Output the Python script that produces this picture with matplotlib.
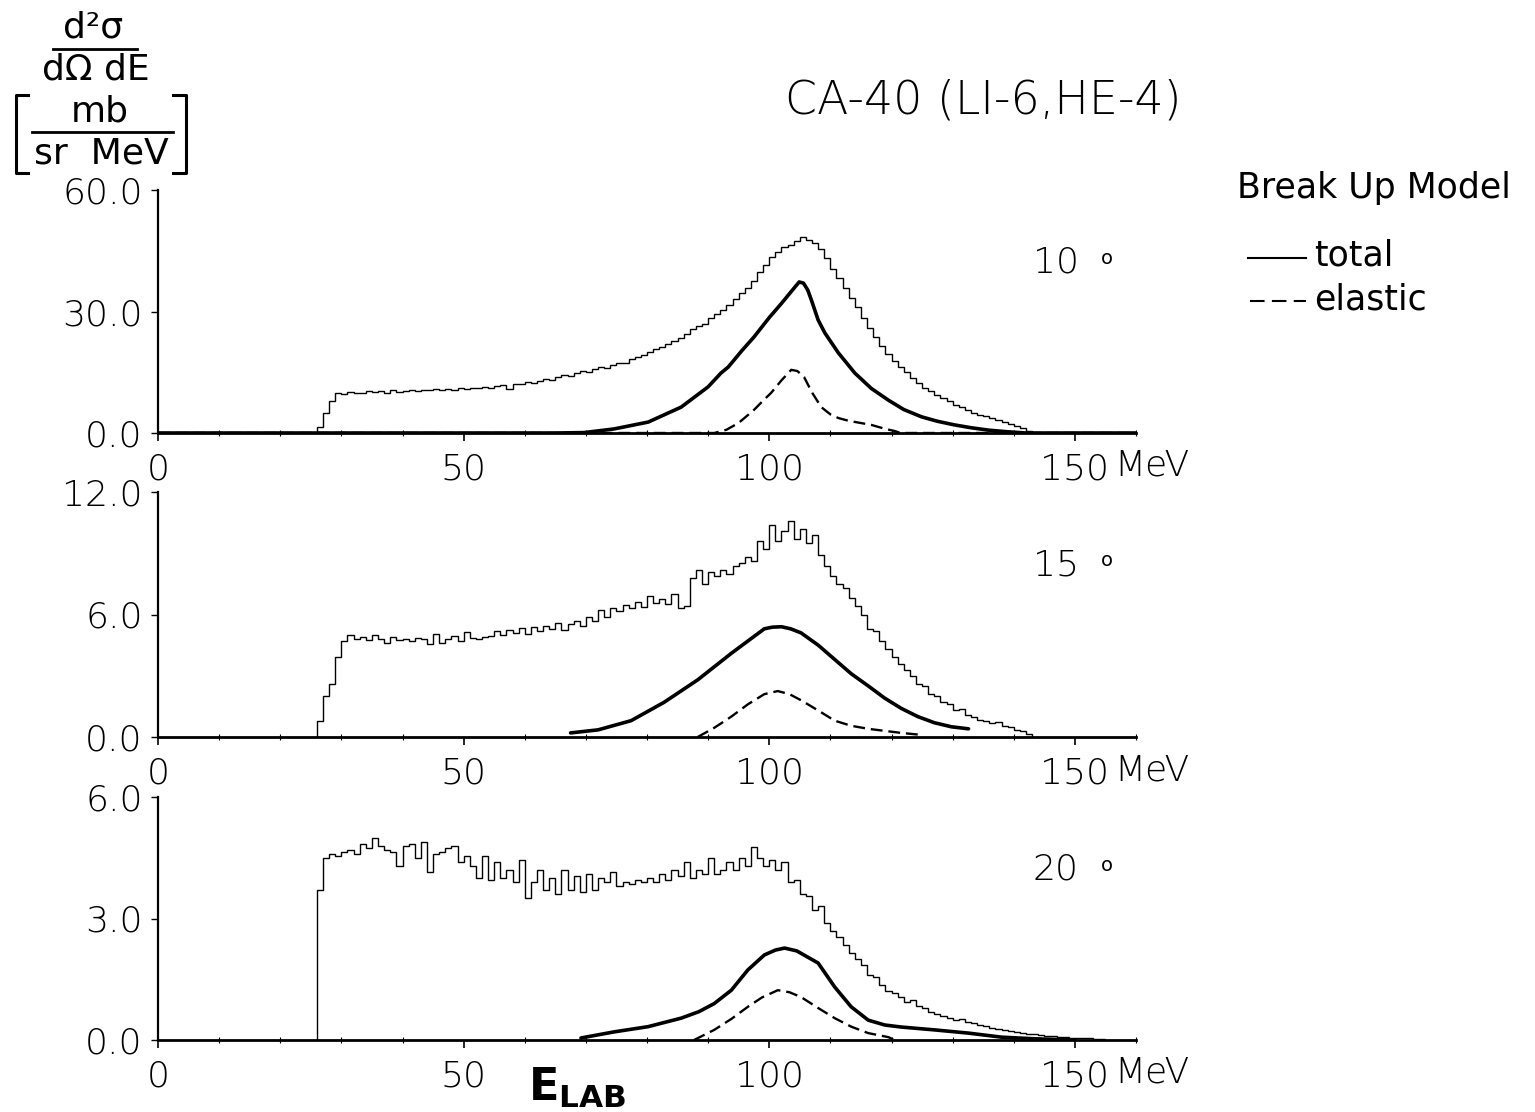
import numpy as np
import matplotlib
matplotlib.use("Agg")
import matplotlib.pyplot as plt
from matplotlib.lines import Line2D

plt.rcParams['font.family'] = ['DejaVu Sans']
plt.rcParams['mathtext.fontset'] = 'dejavusans'

# ---------------- data ----------------
hist_start = 26  # MeV, first bin edge; 1 MeV bins

hist10 = [1.5, 5, 8, 9.8, 9.6, 10.2, 10.0, 9.9, 10.4, 10.1, 10.3, 10.0, 10.5, 10.2, 10.4,
          10.6, 10.3, 10.7, 10.5, 10.8, 10.6, 10.9, 10.7, 11.0, 10.8, 11.2, 11.0, 11.3, 11.1,
          11.5, 11.8, 10.9, 12.2, 12.0, 12.5, 12.3, 12.9, 13.4, 13.1, 13.8, 14.2, 14.0, 14.8,
          15.2, 15.0, 15.8, 16.3, 16.1, 16.9, 17.4, 17.2, 18.2, 18.8, 19.3, 19.9, 20.8, 21.3,
          22.0, 22.8, 23.4, 24.5, 25.8, 26.3, 27.0, 28.4, 29.5, 30.3, 31.5, 33.2, 34.5, 35.8,
          37.5, 39.8, 41.6, 43.5, 44.8, 46.0, 46.5, 47.4, 48.3, 47.6, 46.8, 45.5, 43.2, 40.6,
          38.2, 35.9, 33.4, 31.2, 28.5, 26.0, 23.8, 21.5, 19.6, 17.8, 16.4, 15.0, 13.6, 12.4,
          11.2, 10.3, 9.5, 8.6, 7.8, 7.0, 6.3, 5.6, 5.0, 4.5, 4.1, 3.6, 3.2, 2.8, 2.3, 1.8,
          1.2, 0.6]

hist15 = [0.8, 2.0, 2.6, 3.9, 4.7, 5.0, 4.8, 4.9, 4.75, 5.0, 4.8, 4.6, 4.9, 4.75, 4.8,
          4.7, 4.85, 4.8, 4.55, 5.05, 4.6, 4.8, 4.95, 4.7, 5.15, 4.85, 4.8, 4.9, 4.95, 5.2,
          5.0, 5.25, 5.1, 5.35, 5.05, 5.4, 5.2, 5.45, 5.3, 5.6, 5.25, 5.55, 5.7, 5.45, 5.9,
          5.7, 6.2, 5.9, 6.3, 6.15, 6.45, 6.3, 6.6, 6.35, 6.9, 6.55, 6.75, 6.5, 7.0, 6.3,
          6.4, 7.8, 8.2, 7.5, 8.1, 7.9, 8.2, 8.0, 8.4, 8.5, 8.8, 8.6, 9.6, 9.2, 10.4, 9.6,
          10.1, 10.6, 9.7, 10.2, 9.5, 9.9, 8.9, 8.4, 7.9, 7.5, 7.3, 6.8, 6.4, 6.0, 5.3, 5.2,
          4.7, 4.3, 3.9, 3.6, 3.3, 3.0, 2.6, 2.5, 2.1, 2.0, 1.7, 1.6, 1.3, 1.35, 1.1, 1.0,
          0.85, 0.8, 0.7, 0.75, 0.55, 0.5, 0.35, 0.3, 0.15]

hist20 = [3.7, 4.5, 4.6, 4.55, 4.65, 4.7, 4.6, 4.85, 4.75, 5.0, 4.8, 4.7, 4.65, 4.3, 4.8,
          4.85, 4.5, 4.9, 4.15, 4.6, 4.65, 4.75, 4.8, 4.4, 4.55, 4.3, 4.0, 4.55, 3.95, 4.4,
          4.0, 4.2, 3.9, 4.45, 3.5, 3.9, 4.2, 3.7, 4.0, 3.6, 4.2, 3.7, 4.05, 3.65, 4.1, 3.7,
          4.0, 3.9, 4.15, 3.8, 3.9, 3.85, 3.95, 3.9, 4.0, 3.9, 4.1, 3.95, 4.2, 4.05, 4.4,
          4.0, 4.2, 4.1, 4.5, 4.1, 4.2, 4.4, 4.2, 4.5, 4.3, 4.77, 4.5, 4.3, 4.45, 4.2, 4.4,
          3.9, 3.95, 3.6, 3.55, 3.2, 3.3, 2.9, 2.7, 2.55, 2.35, 2.15, 2.0, 1.85, 1.6, 1.55,
          1.35, 1.2, 1.15, 1.05, 0.95, 1.0, 0.85, 0.8, 0.7, 0.65, 0.6, 0.55, 0.5, 0.52, 0.45,
          0.42, 0.38, 0.35, 0.3, 0.28, 0.25, 0.22, 0.2, 0.18, 0.15, 0.14, 0.12, 0.1, 0.1,
          0.08, 0.07, 0.06, 0.05, 0.05, 0.04, 0.03, 0.02]

tot10_x = [0, 65, 69.7, 74.6, 80.2, 85.6, 90, 92.1, 93.3, 95.5, 97.5, 100, 102, 103.8,
           104.9, 105.6, 106.3, 106.9, 108, 109.1, 111.3, 114, 116.7, 119.5, 122, 124.9,
           127.5, 130.3, 133, 135.9, 139, 142, 160]
tot10_y = [0, 0, 0.1, 1.0, 2.7, 6.4, 11.4, 14.8, 16.3, 20.3, 23.7, 28.5, 32.0, 35.3,
           37.3, 37.0, 35.3, 32.8, 27.9, 24.7, 19.8, 14.8, 11.0, 8.1, 5.8, 4.0,
           2.9, 2.0, 1.3, 0.7, 0.3, 0, 0]
el10_x = [0, 91, 93, 95, 97.5, 99, 100.3, 102, 103.6, 104.6, 105.7, 107, 108.5, 110,
          111.3, 113, 116.7, 119, 120.5, 121.5, 160]
el10_y = [0, 0, 0.8, 2.5, 5.7, 8.0, 9.9, 13.0, 15.6, 15.3, 13.8, 10.0, 6.4, 4.6,
          3.7, 3.0, 2.0, 1.0, 0.5, 0, 0]

tot15_x = [67.5, 72, 77.4, 82.8, 88.3, 93.8, 99.2, 100.5, 102, 103.5, 105.2, 108, 110.7,
           113.4, 116.2, 118.9, 121.6, 124.3, 127, 129.8, 132.6]
tot15_y = [0.2, 0.35, 0.8, 1.7, 2.8, 4.1, 5.3, 5.38, 5.4, 5.3, 5.1, 4.5, 3.8,
           3.1, 2.5, 1.9, 1.4, 1.0, 0.7, 0.5, 0.4]
el15_x = [88.3, 91, 93.8, 96.5, 99.2, 101.4, 103.3, 105.2, 108, 110.7, 113.4, 116.2,
          121.6, 125]
el15_y = [0, 0.45, 1.0, 1.6, 2.1, 2.25, 2.1, 1.8, 1.3, 0.8, 0.55, 0.4, 0.2, 0.1]

tot20_x = [69.2, 74.6, 80.2, 85.6, 88.5, 91, 93.8, 96.5, 99.2, 101, 102.5, 104.5, 108,
           110.7, 113.4, 116.2, 118.9, 121.6, 127, 132.6, 138, 143.4, 150]
tot20_y = [0.05, 0.2, 0.33, 0.54, 0.7, 0.9, 1.23, 1.73, 2.1, 2.22, 2.27, 2.2, 1.9,
           1.31, 0.82, 0.49, 0.37, 0.32, 0.25, 0.17, 0.07, 0.03, 0]
el20_x = [87.7, 91, 93.8, 96.5, 98.8, 101.4, 103.3, 105.2, 108, 110.7, 113.4, 116.2,
          119.5, 120.5]
el20_y = [0, 0.25, 0.52, 0.82, 1.05, 1.23, 1.18, 1.06, 0.79, 0.54, 0.33, 0.17, 0.07, 0]

angles = ['10', '15', '20']
ymaxes = [60.0, 12.0, 6.0]
yticks = [[0, 30, 60], [0, 6, 12], [0, 3, 6]]
yticklabels = [['0.0', '30.0', '60.0'], ['0.0', '6.0', '12.0'], ['0.0', '3.0', '6.0']]
xticks = [0, 50, 100, 150]
xticklabels = ['0', '50', '100', '150']

hists = [hist10, hist15, hist20]
tots = [(tot10_x, tot10_y), (tot15_x, tot15_y), (tot20_x, tot20_y)]
els = [(el10_x, el10_y), (el15_x, el15_y), (el20_x, el20_y)]

# ---------------- figure ----------------
W, H = 1535, 1112
fig = plt.figure(figsize=(W / 100, H / 100), dpi=100)

def fx(px):
    return px / W

def fy(py):
    return 1 - py / H

left, right = 158, 1136
panels = [(190, 433), (492, 737), (797, 1040)]  # top, bottom pixel rows

tickfont = dict(family='DejaVu Sans', size=26, weight='light')

for i, (top, bot) in enumerate(panels):
    ax = fig.add_axes([fx(left), fy(bot), (right - left) / W, (bot - top) / H])
    ax.set_xlim(0, 160)
    ax.set_ylim(0, ymaxes[i])
    for s in ['top', 'right']:
        ax.spines[s].set_visible(False)
    ax.spines['left'].set_linewidth(1.6)
    ax.spines['bottom'].set_linewidth(2.0)
    ax.patch.set_alpha(0)

    h = np.array(hists[i])
    edges = hist_start + np.arange(len(h) + 1)
    ax.stairs(h, edges, color='black', linewidth=1.0, baseline=0)
    ax.plot(*tots[i], color='black', linewidth=2.6, solid_capstyle='round')
    el_line, = ax.plot(*els[i], color='black', linewidth=1.7)
    el_line.set_dashes((5, 2.5))

    ax.set_xticks(xticks)
    ax.set_xticklabels(xticklabels, **tickfont)
    ax.set_xticks(np.arange(0, 161, 10), minor=True)
    ax.tick_params(axis='x', which='major', direction='out', length=6, width=1.2, pad=8)
    ax.tick_params(axis='x', which='minor', direction='inout', length=4, width=0.8)
    ax.set_yticks(yticks[i])
    ax.set_yticklabels(yticklabels[i], **tickfont)
    ax.tick_params(axis='y', which='major', direction='out', length=5, width=1.0, pad=6)

    ax.text(156.5, -0.135, 'MeV', transform=ax.get_xaxis_transform(),
            ha='left', va='center', **tickfont)

    ax.text(0.918, 0.70, angles[i], transform=ax.transAxes, ha='center', va='center',
            fontsize=26, weight='light')
    ax.text(0.970, 0.72, 'o', transform=ax.transAxes, ha='center', va='center',
            fontsize=14)

# y-axis unit label block
lab = dict(ha='center', va='center', fontsize=26)
fig.text(fx(93), fy(27), 'd\u00b2\u03c3', **lab)
fig.add_artist(Line2D([fx(53), fx(137)], [fy(49), fy(49)], color='black', lw=2))
fig.text(fx(96), fy(69), 'd\u03a9 dE', **lab)
fig.text(fx(100), fy(111), 'mb', **lab)
fig.add_artist(Line2D([fx(32), fx(173)], [fy(132), fy(132)], color='black', lw=2))
fig.text(fx(101), fy(153), 'sr  MeV', **lab)
# brackets
fig.add_artist(Line2D([fx(28), fx(16), fx(16), fx(28)],
                      [fy(95), fy(95), fy(173), fy(173)], color='black', lw=2.2))
fig.add_artist(Line2D([fx(173), fx(186), fx(186), fx(173)],
                      [fy(95), fy(95), fy(173), fy(173)], color='black', lw=2.2))

# title
fig.text(fx(983), fy(100), 'CA-40 (LI-6,HE-4)', ha='center', va='center',
         fontsize=33, family='DejaVu Sans', weight='light')

# legend block
lfs = 25
fig.text(fx(1237), fy(188), 'Break Up Model', ha='left', va='center', fontsize=lfs)
fig.add_artist(Line2D([fx(1248), fx(1306)], [fy(258), fy(258)], color='black', lw=1.5))
fig.text(fx(1314), fy(256), 'total', ha='left', va='center', fontsize=lfs)
l2 = Line2D([fx(1250), fx(1306)], [fy(301), fy(301)], color='black', lw=1.5)
l2.set_dashes((7, 3.5))
fig.add_artist(l2)
fig.text(fx(1314), fy(299), 'elastic', ha='left', va='center', fontsize=lfs)

# x-axis label
fig.text(fx(528), fy(1088), r'$\mathbf{E}_{\mathbf{LAB}}$', ha='left', va='center',
         fontsize=32)

fig.savefig('out.png', dpi=100)
